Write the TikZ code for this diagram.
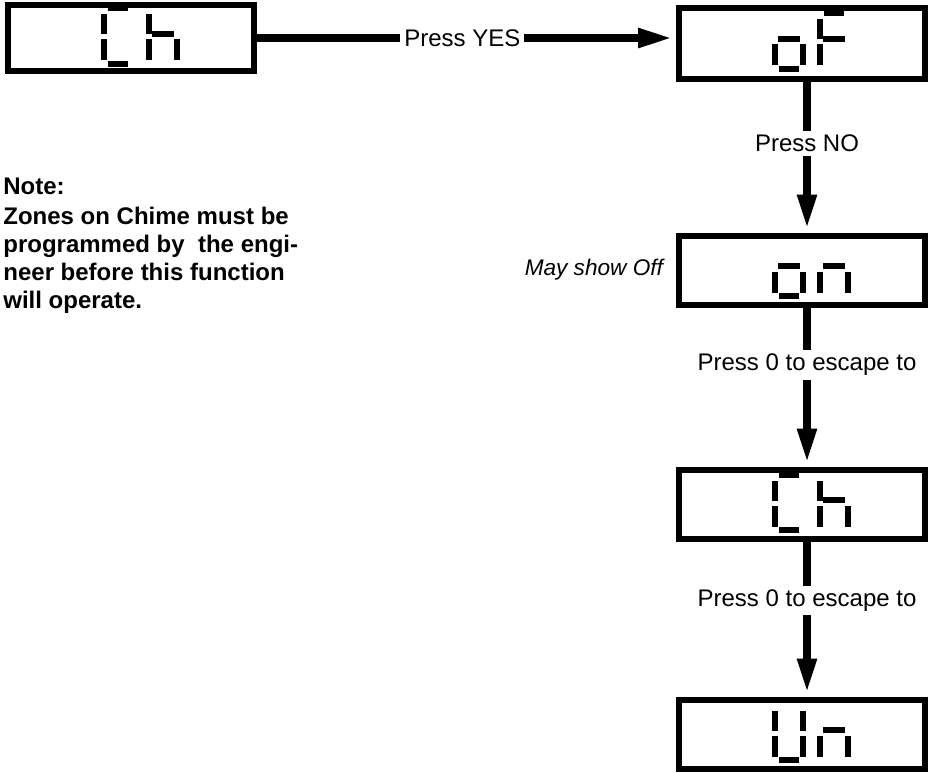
\documentclass[tikz,border=0pt]{standalone}
\usepackage{fontspec}
\setmainfont{Liberation Sans}
\usetikzlibrary{arrows.meta,positioning}

% segments of one display digit, origin at its top left corner
\newcommand\segA{\fill (7,0) rectangle (27,6);}
\newcommand\segB{\fill (27.5,9) rectangle (33.5,29);}
\newcommand\segC{\fill (27.5,34) rectangle (33.5,55);}
\newcommand\segD{\fill (7,55.5) rectangle (27,61.5);}
\newcommand\segE{\fill (0,34) rectangle (6,55);}
\newcommand\segF{\fill (0,9) rectangle (6,29);}
\newcommand\segG{\fill (6,25.5) rectangle (27.5,31.5);}

\tikzset{pics/digit/.style={code={\foreach \s in {#1} {\csname seg\s\endcsname}}}}

% two digits in a display box
\newcommand\showword[4][-2.5pt]{%
  \pic at ([xshift=-15pt,yshift=#1]#2.north) {digit={#3}};
  \pic at ([xshift=7.5pt,yshift=#1]#2.north) {digit={#4}};}

\begin{document}
\begin{tikzpicture}[x=0.5pt,y=-0.5pt,
    every node/.style={font=\fontsize{12}{14}\selectfont},
    display/.style={draw,line width=3pt,minimum width=123pt,minimum height=34.5pt,inner sep=0pt},
    conn/.style={line width=4pt,-{Triangle[length=17.5pt,width=9pt]},shorten >=1.5pt},
    lbl/.style={fill=white,inner xsep=2pt,inner ysep=2pt}]
  \useasboundingbox (0,0) rectangle (930,772);

  \node[display,minimum height=33pt] (chA) at (131,38) {};
  \node[display,minimum height=35.5pt] (oF) at (802,43.5) {};
  \node[display] (on) at (802,270) {};
  \node[display] (chB) at (802,504) {};
  \node[display] (un) at (802,734) {};

  \showword[-1.5pt]{chA}{A,D,E,F}{F,E,C,G}
  \showword{oF}{G,C,D,E}{A,F,E,G}
  \showword{on}{G,C,D,E}{G,E,C}
  \showword{chB}{A,D,E,F}{F,E,C,G}
  \showword{un}{F,E,B,C,D}{G,E,C}

  \node[left=3pt of on,font=\itshape\fontsize{11.3}{14}\selectfont] (hint) {May show Off};
  \node[anchor=north west,inner sep=0pt,align=left,
    font=\bfseries\fontsize{12}{14}\selectfont] (note) at (3,178)
    {Note:\\[1pt]Zones on Chime must be\\programmed by\ \ the engi-\\neer before this function\\will operate.};

  \draw (chA.east) edge[conn] node[lbl,pos=.49]{Press YES} (chA.east -| oF.west);
  \draw ([xshift=2.5pt]oF.south) edge[conn] node[lbl,pos=.41]{Press NO} ([xshift=2.5pt]on.north);
  \draw ([xshift=2.5pt]on.south) edge[conn] node[lbl,pos=.36]{Press 0 to escape to} ([xshift=2.5pt]chB.north);
  \draw ([xshift=2.5pt]chB.south) edge[conn] node[lbl,pos=.38]{Press 0 to escape to} ([xshift=2.5pt]un.north);
\end{tikzpicture}
\end{document}
